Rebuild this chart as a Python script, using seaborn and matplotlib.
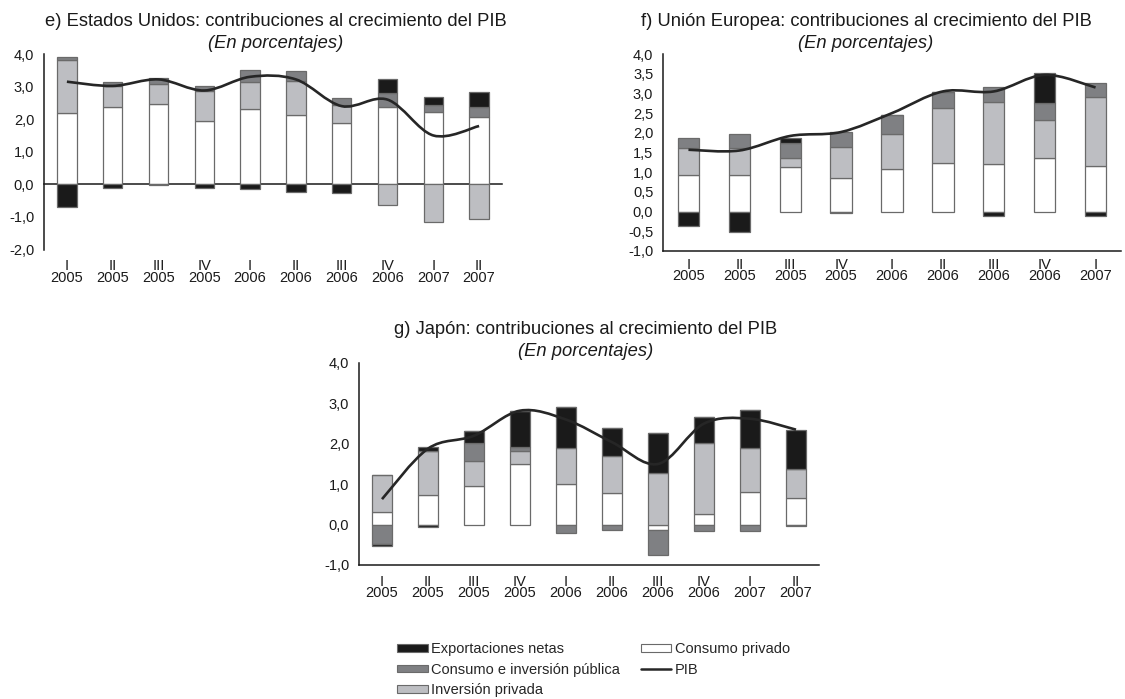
import numpy as np
import pandas as pd
import matplotlib
matplotlib.use("Agg")
import matplotlib.pyplot as plt
import seaborn as sns
from matplotlib.path import Path
from matplotlib.patches import PathPatch, Patch
from matplotlib.lines import Line2D
from matplotlib.ticker import FixedLocator, FuncFormatter

sns.set_style("white")
plt.rcParams["font.family"] = ["Liberation Sans", "DejaVu Sans"]

# ---------------- data ----------------
us_labels = ["I\n2005", "II\n2005", "III\n2005", "IV\n2005", "I\n2006",
             "II\n2006", "III\n2006", "IV\n2006", "I\n2007", "II\n2007"]
us_consumo = [2.20, 2.37, 2.48, 1.95, 2.31, 2.13, 1.87, 2.36, 2.22, 2.06]
us_inversion = [1.62, 0.64, 0.59, 0.90, 0.83, 1.05, 0.58, -0.63, -1.17, -1.06]
us_publico = [0.10, 0.12, 0.18, 0.17, 0.38, 0.29, 0.20, 0.43, 0.21, 0.30]
us_export = [-0.70, -0.12, -0.02, -0.10, -0.15, -0.25, -0.28, 0.43, 0.26, 0.47]
us_pib = [3.15, 3.02, 3.22, 2.88, 3.30, 3.22, 2.40, 2.60, 1.50, 1.79]

eu_labels = ["I\n2005", "II\n2005", "III\n2005", "IV\n2005", "I\n2006",
             "II\n2006", "III\n2006", "IV\n2006", "I\n2007"]
eu_consumo = [0.94, 0.92, 1.13, 0.86, 1.09, 1.23, 1.21, 1.37, 1.15]
eu_inversion = [0.68, 0.70, 0.23, 0.78, 0.87, 1.41, 1.56, 0.96, 1.77]
eu_publico = [0.26, 0.36, 0.38, 0.37, 0.50, 0.39, 0.40, 0.43, 0.34]
eu_export = [-0.36, -0.52, 0.14, -0.03, 0.0, 0.0, -0.12, 0.75, -0.10]
eu_pib = [1.57, 1.55, 1.92, 2.02, 2.50, 3.05, 3.05, 3.47, 3.15]

jp_labels = ["I\n2005", "II\n2005", "III\n2005", "IV\n2005", "I\n2006",
             "II\n2006", "III\n2006", "IV\n2006", "I\n2007", "II\n2007"]
jp_consumo = [0.30, 0.74, 0.95, 1.49, 1.01, 0.77, -0.13, 0.27, 0.81, 0.67]
jp_inversion = [0.93, 1.08, 0.63, 0.34, 0.88, 0.92, 1.28, 1.75, 1.08, 0.70]
jp_publico = [-0.47, 0.0, 0.44, 0.09, -0.20, -0.14, -0.62, -0.17, -0.17, 0.0]
jp_export = [-0.05, 0.09, 0.29, 0.90, 1.03, 0.70, 0.99, 0.64, 0.94, 0.98]
jp_export_neg = [0.0, -0.05, 0.0, 0.0, 0.0, 0.0, 0.0, 0.0, 0.0, -0.04]
jp_pib = [0.63, 1.88, 2.20, 2.82, 2.60, 2.04, 1.50, 2.50, 2.62, 2.35]

colors = {"Consumo privado": "#ffffff", "Inversión privada": "#bdbec2",
          "Consumo e inversión pública": "#7f8083", "Exportaciones netas": "#1a1a1a"}
EDGE = "#6a6a6a"
LINE_C = "#262626"
FS = 10.5

W, H = 1125, 699
fig = plt.figure(figsize=(W / 100, H / 100), dpi=100)


def px_axes(left, right, top, bottom):
    return fig.add_axes([left / W, 1 - bottom / H, (right - left) / W, (bottom - top) / H])


def smooth_line(ax, xs, ys):
    xs = np.asarray(xs, float)
    ys = np.asarray(ys, float)
    pts = np.column_stack([xs, ys])
    n = len(pts)
    verts = [pts[0]]
    codes = [Path.MOVETO]
    for i in range(n - 1):
        p0 = pts[i - 1] if i > 0 else pts[i]
        p1 = pts[i]
        p2 = pts[i + 1]
        p3 = pts[i + 2] if i + 2 < n else pts[i + 1]
        c1 = p1 + (p2 - p0) / 6.0
        c2 = p2 - (p3 - p1) / 6.0
        verts += [c1, c2, p2]
        codes += [Path.CURVE4] * 3
    ax.add_patch(PathPatch(Path(verts, codes), facecolor="none",
                           edgecolor=LINE_C, lw=1.9, zorder=5))


def stacked(ax, labels, cols, pib, ylim, yticks, zero_axis, label_pad):
    n = len(labels)
    x = np.arange(n)
    df = pd.DataFrame({name: vals for name, vals in cols})
    pos_b = np.zeros(n)
    neg_b = np.zeros(n)
    for name, _ in cols:
        v = df[name].to_numpy()
        base = np.where(v >= 0, pos_b, neg_b)
        cname = name.split("#")[0]
        ax.bar(x, v, bottom=base, width=0.42, color=colors[cname],
               edgecolor=EDGE, linewidth=0.9, zorder=3)
        pos_b = pos_b + np.where(v >= 0, v, 0)
        neg_b = neg_b + np.where(v < 0, v, 0)
    smooth_line(ax, x, pib)
    ax.set_xlim(-0.5, n - 0.5)
    ax.set_ylim(*ylim)
    for s in ["top", "right"]:
        ax.spines[s].set_visible(False)
    for s in ["left", "bottom"]:
        ax.spines[s].set_color("#1a1a1a")
        ax.spines[s].set_linewidth(1.1)
    if zero_axis:
        ax.spines["bottom"].set_position(("data", 0))
    ax.xaxis.set_major_locator(FixedLocator(x))
    ax.xaxis.set_minor_locator(FixedLocator(np.arange(n + 1) - 0.5))
    ax.set_xticklabels(labels, fontsize=FS, linespacing=0.75, color="#1a1a1a")
    ax.tick_params(axis="x", which="major", direction="in", length=3, width=1,
                   pad=label_pad, color="#1a1a1a")
    ax.tick_params(axis="x", which="minor", direction="out", length=4, width=1,
                   color="#1a1a1a")
    ax.yaxis.set_major_locator(FixedLocator(yticks))
    ax.yaxis.set_major_formatter(FuncFormatter(lambda v, p: f"{v:.1f}".replace(".", ",")))
    ax.tick_params(axis="y", direction="out", length=4, width=1, pad=3,
                   labelsize=FS, color="#1a1a1a", labelcolor="#1a1a1a")
    ax.grid(False)


# ---- Estados Unidos ----
ax1 = px_axes(44, 502, 54, 249.5)
stacked(ax1, us_labels,
        [("Consumo privado", us_consumo), ("Inversión privada", us_inversion),
         ("Consumo e inversión pública", us_publico), ("Exportaciones netas", us_export)],
        us_pib, (-2.0, 4.0), np.arange(-2.0, 4.01, 1.0), True, 54)

# ---- Unión Europea ----
ax2 = px_axes(663, 1121, 54, 251)
stacked(ax2, eu_labels,
        [("Consumo privado", eu_consumo), ("Inversión privada", eu_inversion),
         ("Consumo e inversión pública", eu_publico), ("Exportaciones netas", eu_export)],
        eu_pib, (-1.0, 4.0), np.arange(-1.0, 4.01, 0.5), False, 5)

# ---- Japón ----
ax3 = px_axes(359, 819, 363, 565)
stacked(ax3, jp_labels,
        [("Consumo privado", jp_consumo), ("Inversión privada", jp_inversion),
         ("Consumo e inversión pública", jp_publico), ("Exportaciones netas", jp_export),
         ("Exportaciones netas#neg", jp_export_neg)],
        jp_pib, (-1.0, 4.0), np.arange(-1.0, 4.01, 1.0), False, 7)

# ---- titles ----
TFS = 13.2
for cx, ty, title in [(276, 21, "e) Estados Unidos: contribuciones al crecimiento del PIB"),
                      (866, 21, "f) Unión Europea: contribuciones al crecimiento del PIB"),
                      (586, 329, "g) Japón: contribuciones al crecimiento del PIB")]:
    fig.text(cx / W, 1 - ty / H, title, ha="center", va="center", fontsize=TFS, color="#1a1a1a")
    fig.text(cx / W, 1 - (ty + 22) / H, "(En porcentajes)", ha="center", va="center",
             fontsize=TFS, style="italic", color="#1a1a1a")

# ---- legend ----
handles = [Patch(facecolor=colors["Exportaciones netas"], edgecolor=EDGE, lw=0.8),
           Patch(facecolor=colors["Consumo e inversión pública"], edgecolor=EDGE, lw=0.8),
           Patch(facecolor=colors["Inversión privada"], edgecolor=EDGE, lw=0.8),
           Patch(facecolor=colors["Consumo privado"], edgecolor=EDGE, lw=0.8),
           Line2D([], [], color=LINE_C, lw=1.8)]
names = ["Exportaciones netas", "Consumo e inversión pública", "Inversión privada",
         "Consumo privado", "PIB"]
fig.legend(handles, names, loc="upper left", bbox_to_anchor=(397 / W, 1 - 642 / H),
           ncol=2, frameon=False, fontsize=FS, handlelength=2.1, handleheight=0.42,
           handletextpad=0.25, columnspacing=1.4, labelspacing=0.45, borderaxespad=0,
           borderpad=0)

fig.savefig("out.png", dpi=100)
